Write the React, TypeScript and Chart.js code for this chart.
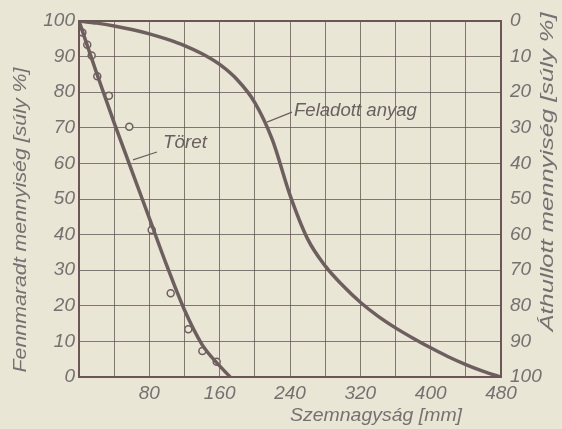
import React, { useEffect, useRef } from "react";
import { Chart, registerables } from "chart.js";

Chart.register(...registerables);

// Feladott anyag (feed material) – remaining % read at every 20 mm
const feedX = [0, 20, 40, 60, 80, 100, 120, 140, 160, 180, 200, 220, 240, 260, 280, 300, 320, 340, 360, 380, 400, 420, 440, 460, 480];
const feedY = [100, 99.4, 98.6, 97.6, 96.4, 94.9, 93.1, 90.8, 87.8, 83.5, 77.1, 66.6, 51.1, 38.8, 31.2, 25.7, 21, 17.1, 13.8, 10.9, 8.2, 5.7, 3.5, 1.6, 0];

// Töret (crushed product) – fitted curve
const crushX = [0, 20, 40, 60, 80, 100, 120, 140, 160, 172];
const crushY = [100, 85.4, 71.4, 58, 44.6, 31.2, 18.8, 9.1, 3.1, 0];

// Töret – measured points
const sampleX = [3.8, 9.4, 14.4, 20.8, 34, 57.2, 82.7, 104.3, 124.3, 140.3, 156.6];
const sampleY = [96.8, 93.3, 90.3, 84.5, 79, 70.3, 41.3, 23.5, 13.4, 7.3, 4.3];

const xLabelValues = [80, 160, 240, 320, 400, 480];

const xTitle = "Szemnagyság [mm]";
const leftTitle = "Fennmaradt mennyiség [súly %]";
const rightTitle = "Áthullott mennyiség [súly %]";
const crushLabel = "Töret";
const feedLabel = "Feladott anyag";

const BG = "#e9e6d6";
const CURVE = "#6e5f5f";
const GRID = "rgba(95,80,80,0.75)";
const TEXT = "#777070";
const FONT = "'Liberation Sans', Arial, sans-serif";

const pts = (xs: number[], ys: number[]) => xs.map((x, i) => ({ x, y: ys[i] }));

export default function App() {
  const ref = useRef<HTMLCanvasElement>(null);

  useEffect(() => {
    const canvas = ref.current!;
    const fitText = (
      ctx: CanvasRenderingContext2D,
      text: string,
      x: number,
      y: number,
      rot: number,
      target: number
    ) => {
      ctx.save();
      ctx.translate(x, y);
      ctx.rotate(rot);
      const w = ctx.measureText(text).width;
      ctx.scale(target / w, 1);
      ctx.fillText(text, 0, 0);
      ctx.restore();
    };

    const decor = {
      id: "decor",
      beforeDraw(chart: any) {
        const ctx = chart.ctx;
        ctx.save();
        ctx.fillStyle = BG;
        ctx.fillRect(0, 0, chart.width, chart.height);
        ctx.restore();
      },
      afterDraw(chart: any) {
        const ctx: CanvasRenderingContext2D = chart.ctx;
        const { left, top, right, bottom } = chart.chartArea;
        const xs = chart.scales.x;
        const ys = chart.scales.y;
        ctx.save();
        // frame
        ctx.strokeStyle = "#6a5656";
        ctx.lineWidth = 2;
        ctx.strokeRect(left, top, right - left, bottom - top);

        // titles
        ctx.fillStyle = TEXT;
        ctx.font = `italic 18px ${FONT}`;
        ctx.textAlign = "center";
        ctx.textBaseline = "middle";
        fitText(ctx, leftTitle, 21, 220, -Math.PI / 2, 305);
        fitText(ctx, rightTitle, 548, 172, -Math.PI / 2, 319);
        fitText(ctx, xTitle, 376, 416, 0, 172);

        // annotations
        ctx.strokeStyle = CURVE;
        ctx.lineWidth = 1.2;
        ctx.beginPath();
        ctx.moveTo(xs.getPixelForValue(61.4), ys.getPixelForValue(61));
        ctx.lineTo(xs.getPixelForValue(88.7), ys.getPixelForValue(63.2));
        ctx.moveTo(xs.getPixelForValue(213.8), ys.getPixelForValue(71.6));
        ctx.lineTo(xs.getPixelForValue(242.3), ys.getPixelForValue(74.4));
        ctx.stroke();

        ctx.fillStyle = "#6a6060";
        ctx.textAlign = "left";
        ctx.font = `italic 18px ${FONT}`;
        const tw = ctx.measureText(crushLabel).width;
        ctx.save();
        ctx.translate(xs.getPixelForValue(95.5), ys.getPixelForValue(65.7));
        ctx.scale(44 / tw, 1);
        ctx.fillText(crushLabel, 0, 0);
        ctx.restore();
        const fw = ctx.measureText(feedLabel).width;
        ctx.save();
        ctx.translate(xs.getPixelForValue(244.5), ys.getPixelForValue(74.7));
        ctx.scale(123 / fw, 1);
        ctx.fillText(feedLabel, 0, 0);
        ctx.restore();
        ctx.restore();
      },
    };

    const tickFont = { family: FONT, size: 19, style: "italic" as const };

    const chart = new Chart(canvas, {
      type: "line",
      data: {
        datasets: [
          {
            label: feedLabel,
            data: pts(feedX, feedY),
            borderColor: CURVE,
            borderWidth: 3.5,
            pointRadius: 0,
            cubicInterpolationMode: "monotone",
            fill: false,
          },
          {
            label: crushLabel,
            data: pts(crushX, crushY),
            borderColor: CURVE,
            borderWidth: 3.5,
            pointRadius: 0,
            cubicInterpolationMode: "monotone",
            fill: false,
          },
          {
            label: "Töret (mért)",
            data: pts(sampleX, sampleY),
            showLine: false,
            pointRadius: 3.5,
            pointBorderWidth: 1.5,
            pointBackgroundColor: BG,
            pointBorderColor: CURVE,
          },
        ],
      },
      options: {
        responsive: false,
        animation: false,
        layout: { padding: { top: 21, left: 0, right: 0, bottom: 0 } },
        plugins: { legend: { display: false }, tooltip: { enabled: false } },
        scales: {
          x: {
            type: "linear",
            min: 0,
            max: 480,
            ticks: {
              stepSize: 40,
              font: tickFont,
              color: TEXT,
              padding: 5,
              maxRotation: 0,
              autoSkip: false,
              callback: (v: any) => (xLabelValues.includes(Number(v)) ? String(v) : ""),
            },
            grid: { color: GRID, lineWidth: 1, drawTicks: false },
            border: { display: false },
            afterFit: (s: any) => {
              s.height = 52;
            },
          },
          y: {
            position: "left",
            min: 0,
            max: 100,
            ticks: { stepSize: 10, font: tickFont, color: TEXT, padding: 4 },
            grid: { color: GRID, lineWidth: 1, drawTicks: false },
            border: { display: false },
            afterFit: (s: any) => {
              s.width = 79;
            },
          },
          y2: {
            position: "right",
            min: 0,
            max: 100,
            reverse: true,
            ticks: { stepSize: 10, font: tickFont, color: TEXT, padding: 9 },
            grid: { drawOnChartArea: false, drawTicks: false },
            border: { display: false },
            afterFit: (s: any) => {
              s.width = 61;
            },
          },
        },
      },
      plugins: [decor],
    } as any);

    return () => chart.destroy();
  }, []);

  return (
    <div style={{ position: "fixed", left: 0, top: 0, width: 562, height: 429, background: BG }}>
      <canvas ref={ref} width={562} height={429} style={{ display: "block" }} />
    </div>
  );
}
